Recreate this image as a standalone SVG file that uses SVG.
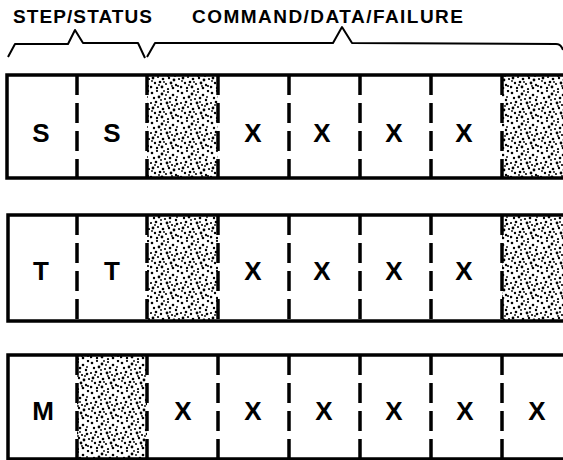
<svg xmlns="http://www.w3.org/2000/svg" width="563" height="460" viewBox="0 0 563 460">
<style>
.hdr{font-family:"Liberation Sans",Arial,sans-serif;font-weight:bold;font-size:19px;fill:#000}
.lbl{font-family:"Liberation Sans",Arial,sans-serif;font-weight:bold;font-size:26px;fill:#000;text-anchor:middle}
.frame{fill:none;stroke:#000;stroke-width:3.5}
.div{stroke:#000;stroke-width:3.5;stroke-dasharray:20 8}
.brk{fill:none;stroke:#000;stroke-width:2;stroke-linejoin:round}
.shade{fill:url(#stipple)}
</style>
<defs>
<pattern id="stipple" patternUnits="userSpaceOnUse" width="30" height="30">
<rect width="30" height="30" fill="#fff"/>
<g fill="#000">
<circle cx="2" cy="3" r="1.3"/><circle cx="7" cy="1" r="1.1"/><circle cx="12" cy="4" r="1.4"/><circle cx="18" cy="2" r="1.1"/><circle cx="23" cy="5" r="1.3"/><circle cx="28" cy="1" r="1.2"/>
<circle cx="4" cy="8" r="1.2"/><circle cx="9" cy="7" r="1.4"/><circle cx="15" cy="9" r="1.1"/><circle cx="20" cy="8" r="1.3"/><circle cx="26" cy="10" r="1.2"/>
<circle cx="1" cy="13" r="1.1"/><circle cx="6" cy="12" r="1.3"/><circle cx="11" cy="14" r="1.2"/><circle cx="17" cy="13" r="1.4"/><circle cx="22" cy="15" r="1.1"/><circle cx="27" cy="14" r="1.3"/>
<circle cx="3" cy="18" r="1.4"/><circle cx="8" cy="17" r="1.1"/><circle cx="13" cy="19" r="1.3"/><circle cx="19" cy="18" r="1.2"/><circle cx="24" cy="20" r="1.4"/><circle cx="29" cy="19" r="1.1"/>
<circle cx="5" cy="23" r="1.2"/><circle cx="10" cy="22" r="1.3"/><circle cx="16" cy="24" r="1.1"/><circle cx="21" cy="23" r="1.4"/><circle cx="26" cy="25" r="1.2"/>
<circle cx="1" cy="27" r="1.3"/><circle cx="7" cy="28" r="1.2"/><circle cx="12" cy="27" r="1.4"/><circle cx="18" cy="29" r="1.1"/><circle cx="23" cy="28" r="1.3"/><circle cx="28" cy="26" r="1.1"/>
<circle cx="14" cy="1" r="0.9"/><circle cx="25" cy="16" r="0.9"/><circle cx="9" cy="25" r="0.9"/><circle cx="20" cy="12" r="0.9"/><circle cx="16" cy="5" r="0.9"/><circle cx="5" cy="15" r="0.9"/><circle cx="11" cy="10" r="0.9"/><circle cx="27" cy="7" r="0.9"/><circle cx="22" cy="26" r="0.9"/><circle cx="14" cy="22" r="0.9"/><circle cx="2" cy="21" r="0.9"/><circle cx="18" cy="16" r="0.9"/>
</g>
</pattern>
</defs>
<rect width="563" height="460" fill="#fff"/>

<g id="header">
<text class="hdr" x="13" y="23" textLength="139" lengthAdjust="spacing">STEP/STATUS</text>
<text class="hdr" x="192" y="23" textLength="271" lengthAdjust="spacing">COMMAND/DATA/FAILURE</text>
</g>

<g id="connectors">
<path id="bracket-step" class="brk" d="M8,57 L15,44 L68,44 L75,30 L83,43 L138,43 L145,58"/>
<path id="bracket-command" class="brk" d="M147,57 L155,43 L333,43 L342,27 L352,43 L556,44 Q561,44 563,50"/>
</g>

<g id="row-step">
<rect class="shade" x="147" y="75" width="71" height="103"/>
<rect class="shade" x="502" y="75" width="61" height="103"/>
<path class="frame" d="M563,75 L7,75 L7,178 L563,178"/>
<line class="div" x1="77" y1="75" x2="77" y2="178"/>
<line class="div" x1="147" y1="75" x2="147" y2="178"/>
<line class="div" x1="218" y1="75" x2="218" y2="178"/>
<line class="div" x1="289" y1="75" x2="289" y2="178"/>
<line class="div" x1="360" y1="75" x2="360" y2="178"/>
<line class="div" x1="431" y1="75" x2="431" y2="178"/>
<line class="div" x1="502" y1="75" x2="502" y2="178"/>
<text class="lbl" x="41" y="142">S</text>
<text class="lbl" x="112" y="142">S</text>
<text class="lbl" x="253" y="142">X</text>
<text class="lbl" x="322" y="142">X</text>
<text class="lbl" x="394" y="142">X</text>
<text class="lbl" x="464" y="142">X</text>
</g>

<g id="row-test">
<rect class="shade" x="147" y="215" width="71" height="106"/>
<rect class="shade" x="502" y="215" width="61" height="106"/>
<path class="frame" d="M563,215 L8,215 L8,321 L563,321"/>
<line class="div" x1="77" y1="215" x2="77" y2="321"/>
<line class="div" x1="147" y1="215" x2="147" y2="321"/>
<line class="div" x1="218" y1="215" x2="218" y2="321"/>
<line class="div" x1="289" y1="215" x2="289" y2="321"/>
<line class="div" x1="360" y1="215" x2="360" y2="321"/>
<line class="div" x1="431" y1="215" x2="431" y2="321"/>
<line class="div" x1="502" y1="215" x2="502" y2="321"/>
<text class="lbl" x="41" y="280">T</text>
<text class="lbl" x="112" y="280">T</text>
<text class="lbl" x="253" y="280">X</text>
<text class="lbl" x="322" y="280">X</text>
<text class="lbl" x="394" y="280">X</text>
<text class="lbl" x="464" y="280">X</text>
</g>

<g id="row-message">
<rect class="shade" x="77" y="355" width="70" height="104"/>
<path class="frame" d="M563,355 L8,355 L8,459 L563,459"/>
<line class="div" x1="77" y1="355" x2="77" y2="459"/>
<line class="div" x1="147" y1="355" x2="147" y2="459"/>
<line class="div" x1="218" y1="355" x2="218" y2="459"/>
<line class="div" x1="289" y1="355" x2="289" y2="459"/>
<line class="div" x1="360" y1="355" x2="360" y2="459"/>
<line class="div" x1="431" y1="355" x2="431" y2="459"/>
<line class="div" x1="502" y1="355" x2="502" y2="459"/>
<text class="lbl" x="43" y="420">M</text>
<text class="lbl" x="183" y="420">X</text>
<text class="lbl" x="253" y="420">X</text>
<text class="lbl" x="324" y="420">X</text>
<text class="lbl" x="394" y="420">X</text>
<text class="lbl" x="465" y="420">X</text>
<text class="lbl" x="537" y="420">X</text>
</g>
</svg>
